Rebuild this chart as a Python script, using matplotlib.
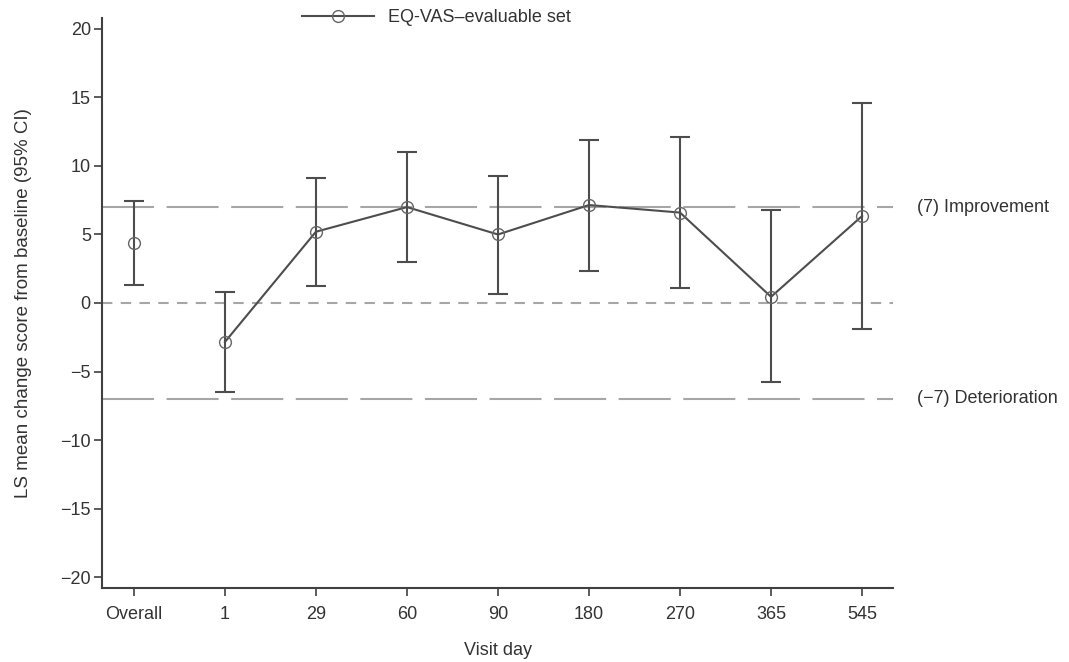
import numpy as np
import matplotlib
matplotlib.use('Agg')
import matplotlib.pyplot as plt

plt.rcParams['font.family'] = ['Liberation Sans', 'DejaVu Sans']

# data
visits = ['Overall', '1', '29', '60', '90', '180', '270', '365', '545']
means = [4.4, -2.85, 5.2, 7.0, 5.0, 7.15, 6.6, 0.45, 6.35]
upper = [7.45, 0.8, 9.1, 11.0, 9.3, 11.9, 12.1, 6.8, 14.6]
lower = [1.3, -6.5, 1.25, 3.0, 0.65, 2.35, 1.1, -5.8, -1.9]
mcid = 7

dark = '#4d4d4d'
grey_ref = '#a6a6a6'
text_c = '#333333'
fs = 13

x = np.arange(len(visits))
m = np.array(means)
err = np.vstack([m - np.array(lower), np.array(upper) - m])

fig = plt.figure(figsize=(10.69, 6.62), dpi=100)
ax = fig.add_axes([0.0954, 0.1118, 0.7400, 0.8610])

# reference lines
ax.axhline(mcid, color=grey_ref, lw=1.5, ls=(0, (25, 6)), zorder=1)
ax.axhline(-mcid, color=grey_ref, lw=1.5, ls=(0, (25, 6)), zorder=1)
ax.axhline(0, color=grey_ref, lw=1.5, ls=(0, (5, 4)), zorder=1)

# error bars
ax.errorbar(x, m, yerr=err, fmt='none', ecolor=dark, elinewidth=1.5,
            capsize=7, capthick=1.5, zorder=2)
# connecting line (visits only, not overall)
line, = ax.plot(x[1:], m[1:], color=dark, lw=1.5, marker='o', ms=8.5,
                mfc='none', mec='#666666', mew=1.0, zorder=3)
ax.plot(x[:1], m[:1], ls='none', marker='o', ms=8.5, mfc='none',
        mec='#666666', mew=1.0, zorder=3)

ax.set_xlim(-0.35, 8.34)
ax.set_ylim(-20.8, 20.8)
ax.set_xticks(x)
ax.set_xticklabels(visits)
ax.set_yticks(np.arange(-20, 21, 5))
ax.set_yticklabels([str(v).replace('-', '\u2212') for v in range(-20, 21, 5)])

for s in ['top', 'right']:
    ax.spines[s].set_visible(False)
for s in ['left', 'bottom']:
    ax.spines[s].set_color('#404040')
    ax.spines[s].set_linewidth(1.5)
ax.tick_params(axis='both', direction='out', length=6, width=1.2,
               color='#404040', labelcolor=text_c, labelsize=fs)
ax.tick_params(axis='y', pad=2)
ax.tick_params(axis='x', pad=7)

ax.set_xlabel('Visit day', fontsize=fs, color=text_c, labelpad=14)
ax.set_ylabel('LS mean change score from baseline (95% CI)', fontsize=13.5,
              color=text_c, labelpad=20)

ax.text(1.03, mcid, '(7) Improvement', transform=ax.get_yaxis_transform(),
        va='center', ha='left', fontsize=fs, color=text_c, clip_on=False)
ax.text(1.03, -mcid, '(\u22127) Deterioration', transform=ax.get_yaxis_transform(),
        va='center', ha='left', fontsize=fs, color=text_c, clip_on=False)

fig.legend([line], ['EQ-VAS\u2013evaluable set'], loc='center left',
           bbox_to_anchor=(0.267, 0.973), frameon=False, fontsize=fs,
           handlelength=4.0, labelcolor=text_c)

fig.savefig('out.png', dpi=100)
